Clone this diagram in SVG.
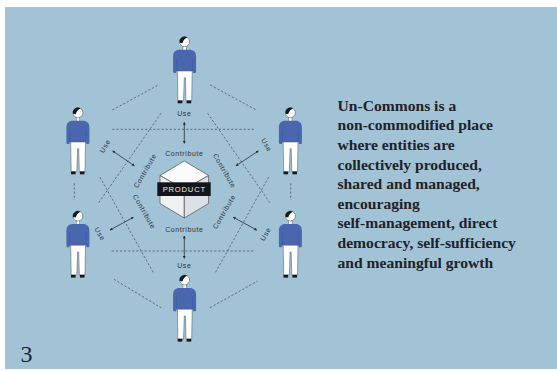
<svg xmlns="http://www.w3.org/2000/svg" xmlns:xlink="http://www.w3.org/1999/xlink" width="557" height="371" viewBox="0 0 557 371">
  <style>
    .dash { fill: none; stroke: #3a4753; stroke-width: 0.7; stroke-dasharray: 2.2 1.9; }
    .arrow { fill: none; stroke: #2b3036; stroke-width: 0.8; marker-start: url(#tip); marker-end: url(#tip); }
    .lbl { font-family: "Liberation Sans", Arial, sans-serif; font-size: 7px; letter-spacing: 0.6px; fill: #2f353b; text-anchor: middle; dominant-baseline: central; }
    .body { font-family: "Liberation Serif", "Times New Roman", serif; font-size: 15.6px; font-weight: bold; fill: #1f2226; }
    .cube { stroke: #5a5f66; stroke-width: 0.8; stroke-linejoin: round; }
  </style>
  <defs>
    <marker id="tip" viewBox="0 0 6 6" refX="5" refY="3" markerWidth="3" markerHeight="3" orient="auto-start-reverse" markerUnits="userSpaceOnUse">
      <path d="M0,0 L6,3 L0,6 Z" fill="#2b3036"/>
    </marker>
    <!-- standing figure, origin at the centre of the head -->
    <g id="person">
      <rect x="-1.6" y="4" width="3.2" height="4.5" fill="#ffffff" stroke="#4a4f55" stroke-width="0.4"/>
      <path d="M-5,8 C-9,8 -11.5,10 -11.5,15 L-11.5,30 Q-11.5,31.2 -10.3,31.2 L-8.6,31.2 L-8,29.3 L8,29.3 L8.6,31.2 L10.3,31.2 Q11.5,31.2 11.5,30 L11.5,15 C11.5,10 9,8 5,8 Z" fill="#4a66ae"/>
      <path d="M-8,17 L-8,29.3 M8,17 L8,29.3" stroke="#3d5596" stroke-width="0.5" fill="none"/>
      <path d="M-7.2,29.3 L7.6,29.3 L7.1,59 L1.4,59 L0.8,36 L-0.3,36 L-1.1,59 L-6.7,59 Z" fill="#ffffff" stroke="#4a4f55" stroke-width="0.5"/>
      <rect x="-6.9" y="58.8" width="4.6" height="2.8" fill="#15181b"/>
      <rect x="2" y="58.8" width="4.6" height="2.8" fill="#15181b"/>
      <circle cx="0" cy="0" r="5" fill="#ffffff" stroke="#3a3f45" stroke-width="0.5"/>
      <path d="M-4.9,1 A5,5 0 0 1 2.6,-4.3 Q-1.2,-2.6 -2.2,1.6 Z" fill="#15181b"/>
    </g>
  </defs>

  <rect x="5" y="7" width="552" height="362" fill="#a2c3d6"/>

  <!-- connectors: dashed lattice and use/contribute arrows -->
  <g id="connectors">
    <line class="dash" x1="112.3" y1="110" x2="158.3" y2="85"/>
    <line class="dash" x1="210.3" y1="85" x2="256.3" y2="110"/>
    <line class="dash" x1="74.3" y1="183.3" x2="74.3" y2="200"/>
    <line class="dash" x1="290.7" y1="183.3" x2="290.7" y2="200"/>
    <line class="dash" x1="114" y1="279.3" x2="161" y2="307.7"/>
    <line class="dash" x1="210" y1="307.7" x2="257.7" y2="281"/>
    <line class="dash" x1="112.3" y1="129.3" x2="255" y2="129.3"/>
    <line class="dash" x1="111.7" y1="251" x2="254" y2="251"/>
    <line class="dash" x1="161" y1="113.3" x2="98.3" y2="203.3"/>
    <line class="dash" x1="100" y1="177.3" x2="153.3" y2="272.7"/>
    <line class="dash" x1="207.6" y1="113.3" x2="270.3" y2="203.3"/>
    <line class="dash" x1="268.6" y1="177.3" x2="215.3" y2="272.7"/>

    <line class="arrow" x1="184.3" y1="122.3" x2="184.3" y2="143.3"/>
    <line class="arrow" x1="184.3" y1="236" x2="184.3" y2="258.3"/>
    <line class="arrow" x1="112.7" y1="151" x2="134.3" y2="165.7"/>
    <line class="arrow" x1="258.3" y1="151" x2="236" y2="165.7"/>
    <line class="arrow" x1="110" y1="230" x2="133.3" y2="217.3"/>
    <line class="arrow" x1="256.7" y1="230" x2="233.3" y2="217.3"/>
  </g>

  <g id="labels">
    <text class="lbl" x="184.3" y="113.3">Use</text>
    <text class="lbl" x="184.3" y="153.3">Contribute</text>
    <text class="lbl" x="184.3" y="229.5">Contribute</text>
    <text class="lbl" x="184.3" y="265">Use</text>
    <text class="lbl" transform="translate(105 146) rotate(-60)">Use</text>
    <text class="lbl" transform="translate(145 170.7) rotate(-60)">Contribute</text>
    <text class="lbl" transform="translate(224.5 170.7) rotate(60)">Contribute</text>
    <text class="lbl" transform="translate(266.7 145) rotate(60)">Use</text>
    <text class="lbl" transform="translate(144.3 211.7) rotate(60)">Contribute</text>
    <text class="lbl" transform="translate(100 234) rotate(60)">Use</text>
    <text class="lbl" transform="translate(224 211.7) rotate(-60)">Contribute</text>
    <text class="lbl" transform="translate(265.5 234) rotate(-60)">Use</text>
  </g>

  <g id="product">
    <path class="cube" d="M184.3,161 L208.6,175.5 L184.3,189.5 L160,175.5 Z" fill="#fbfbfb"/>
    <path class="cube" d="M160,175.5 L184.3,189.5 L184.3,218 L160,203.5 Z" fill="#eef0f2"/>
    <path class="cube" d="M208.6,175.5 L184.3,189.5 L184.3,218 L208.6,203.5 Z" fill="#dde1e5"/>
    <rect x="157.3" y="182.3" width="53.4" height="13.7" fill="#121519"/>
    <text x="184.3" y="192.2" font-family="'Liberation Sans', Arial, sans-serif" font-size="7.6" letter-spacing="0.8" fill="#f2f2f2" text-anchor="middle">PRODUCT</text>
  </g>

  <g id="person-top"><use xlink:href="#person" href="#person" x="184.6" y="41.7"/></g>
  <g id="person-upper-left"><use xlink:href="#person" href="#person" x="77.9" y="112.7"/></g>
  <g id="person-upper-right"><use xlink:href="#person" href="#person" x="290.4" y="112.7"/></g>
  <g id="person-lower-left"><use xlink:href="#person" href="#person" x="77.9" y="216"/></g>
  <g id="person-lower-right"><use xlink:href="#person" href="#person" x="290.4" y="216"/></g>
  <g id="person-bottom"><use xlink:href="#person" href="#person" x="184.6" y="280"/></g>

  <g id="caption">
    <text class="body" x="337.5" y="110.7">Un-Commons is a</text>
    <text class="body" x="337.5" y="130.3">non-commodified place</text>
    <text class="body" x="337.5" y="149.9">where entities are</text>
    <text class="body" x="337.5" y="169.5">collectively produced,</text>
    <text class="body" x="337.5" y="189.1">shared and managed,</text>
    <text class="body" x="337.5" y="208.7">encouraging</text>
    <text class="body" x="337.5" y="228.3">self-management, direct</text>
    <text class="body" x="337.5" y="247.9">democracy, self-sufficiency</text>
    <text class="body" x="337.5" y="267.5">and meaningful growth</text>
  </g>

  <text x="20.5" y="362" font-family="'Liberation Serif', 'Times New Roman', serif" font-size="24" fill="#1f2226">3</text>
</svg>
